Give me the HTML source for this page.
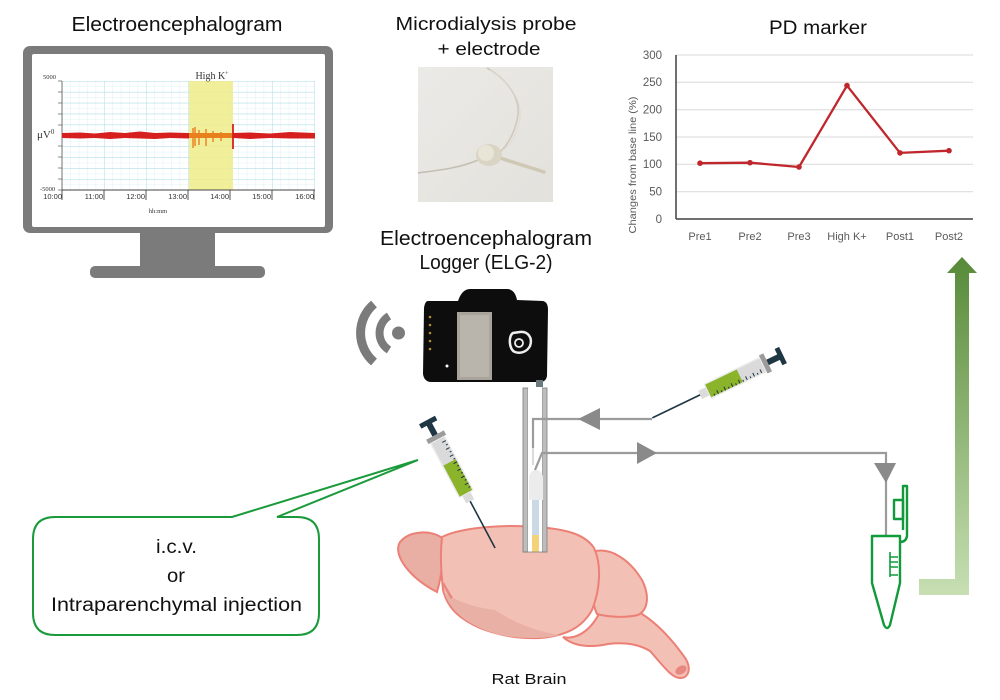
<!DOCTYPE html>
<html><head><meta charset="utf-8"><style>
html,body{margin:0;padding:0;background:#fff;}
svg{display:block;}
text{font-family:"Liberation Sans","Noto Sans CJK JP",sans-serif;}
.s{font-family:"Liberation Serif",serif;}
</style></head><body>
<svg width="1000" height="700" viewBox="0 0 1000 700" xmlns="http://www.w3.org/2000/svg">
<defs>
<pattern id="gmin" x="62" y="81" width="8.4" height="5.45" patternUnits="userSpaceOnUse">
<path d="M0,0V5.45M0,0H8.4" stroke="#d8eff3" stroke-width="0.8" fill="none"/>
</pattern>
<pattern id="gmaj" x="62" y="81" width="42" height="10.9" patternUnits="userSpaceOnUse">
<path d="M0,0V10.9M0,0H42" stroke="#a9dbe5" stroke-width="0.9" fill="none"/>
</pattern>
<linearGradient id="garr" x1="0" y1="257" x2="0" y2="595" gradientUnits="userSpaceOnUse">
<stop offset="0" stop-color="#578a38"/>
<stop offset="1" stop-color="#c7dfb3"/>
</linearGradient>
<linearGradient id="photo" x1="0" y1="0" x2="1" y2="1">
<stop offset="0" stop-color="#ebeae6"/>
<stop offset="1" stop-color="#e3e1dc"/>
</linearGradient>
</defs>

<!-- ===== Monitor ===== -->
<text x="177" y="31" font-size="20" text-anchor="middle" fill="#111" textLength="211" lengthAdjust="spacingAndGlyphs">Electroencephalogram</text>
<rect x="23" y="46" width="310" height="187" rx="7" fill="#7b7b7b"/>
<rect x="32" y="54" width="293" height="173" rx="2" fill="#fff"/>
<rect x="140" y="232" width="75" height="36" fill="#7b7b7b"/>
<rect x="90" y="266" width="175" height="12" rx="5" fill="#7b7b7b"/>
<!-- chart -->
<rect x="62" y="81" width="253" height="109" fill="url(#gmin)"/>
<rect x="62" y="81" width="253" height="109" fill="url(#gmaj)"/>
<rect x="189" y="81" width="44" height="109" fill="#f0ec8a" opacity="0.85"/>
<line x1="62" y1="81" x2="62" y2="190" stroke="#555" stroke-width="0.8"/>
<path d="M58,81H62M58,92H62M58,103H62M58,114H62M58,125H62M58,146H62M58,157H62M58,168H62M58,179H62M58,190H62" stroke="#666" stroke-width="0.7"/>
<line x1="62" y1="190" x2="315" y2="190" stroke="#444" stroke-width="0.9"/>
<path d="M62,190V200M104,190V200M146,190V200M188,190V200M230,190V200M272,190V200M314,190V200" stroke="#444" stroke-width="0.9"/>
<text class="s" x="43" y="79" font-size="6.5" fill="#333">5000</text>
<text class="s" x="40" y="191" font-size="6.5" fill="#333">-5000</text>
<text class="s" x="37" y="138" font-size="11" fill="#333">μV<tspan font-size="7" dy="-4">0</tspan></text>
<text class="s" x="212" y="79" font-size="10" text-anchor="middle" fill="#333">High K<tspan font-size="6" dy="-4">+</tspan></text>
<g class="s" font-size="7.5" fill="#333" text-anchor="end">
<text x="62" y="199">10:00</text><text x="103" y="199">11:00</text><text x="145" y="199">12:00</text><text x="187" y="199">13:00</text><text x="229" y="199">14:00</text><text x="271" y="199">15:00</text><text x="314" y="199">16:00</text>
</g>
<text class="s" x="158" y="213" font-size="6.5" text-anchor="middle" fill="#333">hh:mm</text>
<!-- signal -->
<path d="M62,133 L80,132.5 L95,133.5 L110,132 L125,133 L140,131.5 L155,133 L170,132.5 L189,133 L189,138.5 L170,138 L155,139 L140,138.5 L125,138 L110,139 L95,138 L80,138.5 L62,138 Z" fill="#d61f1f"/>
<path d="M233,133 L250,132.5 L270,133.5 L290,132 L315,133 L315,138.5 L290,138.5 L270,138 L250,139 L233,138 Z" fill="#d61f1f"/>
<rect x="189" y="133" width="44" height="5" fill="#e8801e"/>
<path d="M193,128V148M195,127V146M199,130V145M206,129V146M213,131V142M221,132V141" stroke="#e8801e" stroke-width="1.4"/>
<path d="M233,124V149" stroke="#d61f1f" stroke-width="1.8"/>

<!-- ===== Probe photo ===== -->
<text x="486" y="30" font-size="18.5" text-anchor="middle" fill="#111" textLength="181" lengthAdjust="spacingAndGlyphs">Microdialysis probe</text>
<text x="489" y="55" font-size="18.5" text-anchor="middle" fill="#111" textLength="103" lengthAdjust="spacingAndGlyphs">+ electrode</text>
<rect x="418" y="67" width="135" height="135" fill="url(#photo)"/>
<path d="M487,68 C505,78 520,95 518,115 C516,130 508,145 500,152" stroke="#cfc9bd" stroke-width="1.6" fill="none"/>
<path d="M490,70 C510,82 522,100 520,118 C518,133 510,146 503,150" stroke="#e0dbd0" stroke-width="1" fill="none"/>
<path d="M418,173 C440,170 460,168 478,160" stroke="#c4bfb3" stroke-width="1.6" fill="none"/>
<path d="M500,158 L544,172" stroke="#cfc8b5" stroke-width="3.5" stroke-linecap="round"/>
<ellipse cx="489" cy="155" rx="13" ry="11" fill="#d9d4c3"/>
<ellipse cx="486" cy="153" rx="8" ry="8" fill="#e8e4d6"/>

<!-- ===== Logger ===== -->
<text x="486" y="245" font-size="20" text-anchor="middle" fill="#111" textLength="212" lengthAdjust="spacingAndGlyphs">Electroencephalogram</text>
<text x="486" y="269" font-size="20" text-anchor="middle" fill="#111" textLength="133" lengthAdjust="spacingAndGlyphs">Logger (ELG-2)</text>
<path d="M428,301 L458,301 Q462,289 470,289 L508,289 Q515,290 517,300 L543,301 Q548,302 548,310 L547,376 Q546,382 540,382 L430,382 Q424,381 423,374 L424,308 Q425,301 428,301 Z" fill="#0d0d0d"/>
<rect x="457" y="312" width="35" height="68" fill="#a8a49c"/>
<rect x="460" y="315" width="29" height="62" fill="#b9b5ac"/>
<path d="M513,333 C508,336 509,350 515,352 C520,354 527,352 530,346 C533,338 528,331 520,332 Z" fill="none" stroke="#eee" stroke-width="2.5"/>
<circle cx="519" cy="343" r="4" fill="none" stroke="#eee" stroke-width="1.8"/>
<g fill="#b08a3a"><circle cx="430" cy="317" r="1.3"/><circle cx="430" cy="325" r="1.3"/><circle cx="430" cy="333" r="1.3"/><circle cx="430" cy="341" r="1.3"/><circle cx="430" cy="349" r="1.3"/></g>
<circle cx="447" cy="366" r="1.5" fill="#fff"/>
<rect x="536" y="380" width="7" height="7" fill="#6a7a80"/>
<!-- wifi -->
<circle cx="398.5" cy="333" r="6.5" fill="#7b7b7b"/>
<path d="M389,316 A20,20 0 0 0 389,350" stroke="#7b7b7b" stroke-width="8" fill="none"/>
<path d="M374,304 A38,38 0 0 0 374,362" stroke="#7b7b7b" stroke-width="9" fill="none"/>

<!-- ===== PD marker chart ===== -->
<text x="818" y="34" font-size="19" text-anchor="middle" fill="#111" textLength="98" lengthAdjust="spacingAndGlyphs">PD marker</text>
<g stroke="#d9d9d9" stroke-width="1">
<line x1="676" y1="55" x2="973" y2="55"/><line x1="676" y1="82.3" x2="973" y2="82.3"/><line x1="676" y1="109.7" x2="973" y2="109.7"/><line x1="676" y1="137" x2="973" y2="137"/><line x1="676" y1="164.3" x2="973" y2="164.3"/><line x1="676" y1="191.7" x2="973" y2="191.7"/>
</g>
<line x1="676" y1="55" x2="676" y2="219" stroke="#404040" stroke-width="1.5"/>
<line x1="676" y1="219" x2="973" y2="219" stroke="#404040" stroke-width="1.5"/>
<g font-size="11.5" fill="#595959" text-anchor="end">
<text x="662" y="59">300</text><text x="662" y="86">250</text><text x="662" y="113.5">200</text><text x="662" y="141">150</text><text x="662" y="168">100</text><text x="662" y="195.5">50</text><text x="662" y="223">0</text>
</g>
<g font-size="11" fill="#595959" text-anchor="middle">
<text x="700" y="240">Pre1</text><text x="750" y="240">Pre2</text><text x="799" y="240">Pre3</text><text x="847" y="240">High K+</text><text x="900" y="240">Post1</text><text x="949" y="240">Post2</text>
</g>
<text transform="translate(636,165) rotate(-90)" font-size="10" fill="#595959" text-anchor="middle" textLength="137" lengthAdjust="spacingAndGlyphs">Changes from base line (%)</text>
<polyline points="700,163.2 750,162.7 799,167 847,85.6 900,152.9 949,150.7" fill="none" stroke="#c0272d" stroke-width="2.3" stroke-linejoin="round"/>
<g fill="#c0272d"><circle cx="700" cy="163.2" r="2.8"/><circle cx="750" cy="162.7" r="2.8"/><circle cx="799" cy="167" r="2.8"/><circle cx="847" cy="85.6" r="2.8"/><circle cx="900" cy="152.9" r="2.8"/><circle cx="949" cy="150.7" r="2.8"/></g>

<!-- ===== Green arrow ===== -->
<path d="M962,257 L977,273 L969,273 L969,595 L919,595 L919,579 L955,579 L955,273 L947,273 Z" fill="url(#garr)"/>

<!-- ===== Brain ===== -->
<path d="M563,637 C575,640 590,632 600,612 C615,612 632,610 642,614 C655,622 670,637 683,655 C692,666 690,678 680,678 C672,678 665,668 650,651 C638,644 625,642 608,644 C595,647 575,648 563,637 Z" fill="#f3c0b5" stroke="#ec8076" stroke-width="2"/>
<ellipse cx="681" cy="670" rx="6" ry="4" transform="rotate(-30 681 670)" fill="#e98880"/>
<path d="M592,552 C610,546 630,560 642,580 C650,596 648,610 638,615 C625,618 608,617 597,614 C590,600 592,575 592,552 Z" fill="#f3c0b5" stroke="#ec8076" stroke-width="2"/>
<path d="M442,538 C432,530 410,530 400,542 C392,555 410,578 437,592 C442,575 444,555 442,538 Z" fill="#e9aea4" stroke="#ec8076" stroke-width="2"/>
<path d="M442,537 C460,528 500,524 537,527 C565,529 585,534 594,548 C602,565 600,590 592,610 C582,628 565,636 540,638 C515,639 495,634 480,628 C462,620 448,610 443,590 C441,570 440,555 442,537 Z" fill="#f3c0b5" stroke="#ec8076" stroke-width="2"/>
<path d="M444,592 C460,604 480,608 495,610 C510,620 530,630 560,635 C545,639 520,639 500,635 C475,628 452,616 444,592 Z" fill="#e9b0a6"/>
<path d="M443,583 C447,590 450,596 452,598" stroke="#e98880" stroke-width="2.5" fill="none"/>
<text x="529" y="684" font-size="15" text-anchor="middle" fill="#111" textLength="75" lengthAdjust="spacingAndGlyphs">Rat Brain</text>

<!-- ===== Probe tubes ===== -->
<rect x="523" y="388" width="5" height="164" fill="#bdbdbd" stroke="#7d7d7d" stroke-width="0.8"/>
<rect x="542" y="388" width="5" height="164" fill="#bdbdbd" stroke="#7d7d7d" stroke-width="0.8"/>
<rect x="528" y="388" width="14" height="164" fill="#fff"/>
<rect x="532" y="500" width="7" height="35" fill="#c9d9e6"/>
<rect x="532" y="535" width="7" height="17" fill="#f4d27a"/>
<path d="M529,478 Q530,470 536,470 Q542,470 543,478 L543,500 L529,500 Z" fill="#ececec"/>
<line x1="523" y1="552" x2="547" y2="552" stroke="#7d7d7d" stroke-width="0.8"/>

<!-- flow lines -->
<path d="M652,419 L533,419 L533,448" stroke="#9b9b9b" stroke-width="2.2" fill="none"/>
<path d="M533,448 L533,465" stroke="#cfcfcf" stroke-width="1.5"/>
<polygon points="578,419 600,408 600,430" fill="#8a8a8a"/>
<path d="M535,470 L542,453 L886,453 L886,536" stroke="#9b9b9b" stroke-width="2.2" fill="none"/>
<polygon points="657,453 637,442 637,464" fill="#8a8a8a"/>
<polygon points="886,483 874,463 896,463" fill="#8a8a8a"/>

<!-- ===== Collection tube ===== -->
<g stroke="#119a3a" stroke-width="2.4" fill="none" stroke-linejoin="round">
<path d="M872,536 L900,536 L900,583 L890,625 Q887,631 884,625 L872,583 Z" fill="#fff"/>
<path d="M890,552 V577 M890,557 H898 M890,562 H898 M890,567 H898 M890,575 H898" stroke-width="1.6"/>
<path d="M900,542 Q906,542 907,536 L907,486 L903,486 L903,530"/>
<rect x="894" y="500" width="9" height="19"/>
</g>

<!-- ===== Syringes ===== -->
<g transform="translate(427,420) rotate(62)">
<rect x="0" y="-9" width="5" height="18" fill="#1f3645"/>
<rect x="4" y="-3" width="14" height="6" fill="#1f3645"/>
<rect x="17" y="-10" width="5" height="20" fill="#9b9b9b"/>
<rect x="22" y="-8.5" width="62" height="17" fill="#ececec"/>
<rect x="23" y="-7" width="60" height="14" fill="#dadada"/>
<rect x="48" y="-7" width="35" height="14" fill="#8cb42b"/>
<path d="M27,-7V-3M31,-7V-5M35,-7V-3M39,-7V-5M43,-7V-3M47,-7V-5M51,-7V-3M55,-7V-5M59,-7V-3M63,-7V-5M67,-7V-3M71,-7V-5M75,-7V-3M79,-7V-5" stroke="#1f3645" stroke-width="1"/>
<rect x="84" y="-4.5" width="8" height="9" fill="#dcdcdc"/>
<line x1="92" y1="0" x2="145" y2="0" stroke="#1f3645" stroke-width="1.6"/>
</g>
<g transform="translate(783,355) rotate(154.3)">
<rect x="0" y="-9" width="5" height="18" fill="#1f3645"/>
<rect x="4" y="-3" width="14" height="6" fill="#1f3645"/>
<rect x="17" y="-10" width="5" height="20" fill="#9b9b9b"/>
<rect x="22" y="-8.5" width="62" height="17" fill="#ececec"/>
<rect x="23" y="-7" width="60" height="14" fill="#dadada"/>
<rect x="48" y="-7" width="35" height="14" fill="#8cb42b"/>
<path d="M27,-7V-3M31,-7V-5M35,-7V-3M39,-7V-5M43,-7V-3M47,-7V-5M51,-7V-3M55,-7V-5M59,-7V-3M63,-7V-5M67,-7V-3M71,-7V-5M75,-7V-3M79,-7V-5" stroke="#1f3645" stroke-width="1"/>
<rect x="84" y="-4.5" width="8" height="9" fill="#dcdcdc"/>
<line x1="92" y1="0" x2="145" y2="0" stroke="#1f3645" stroke-width="1.6"/>
</g>

<!-- ===== Speech bubble ===== -->
<path d="M55,517 L232,517 L418,460 L277,517 L297,517 Q319,517 319,539 L319,613 Q319,635 297,635 L55,635 Q33,635 33,613 L33,539 Q33,517 55,517 Z" fill="#fff" stroke="#1a9a3a" stroke-width="2"/>
<g font-size="19" fill="#111" text-anchor="middle">
<text x="176.5" y="553" textLength="41" lengthAdjust="spacingAndGlyphs">i.c.v.</text>
<text x="176" y="582" textLength="18" lengthAdjust="spacingAndGlyphs">or</text>
<text x="176.5" y="611" textLength="251" lengthAdjust="spacingAndGlyphs">Intraparenchymal injection</text>
</g>
</svg>
</body></html>
